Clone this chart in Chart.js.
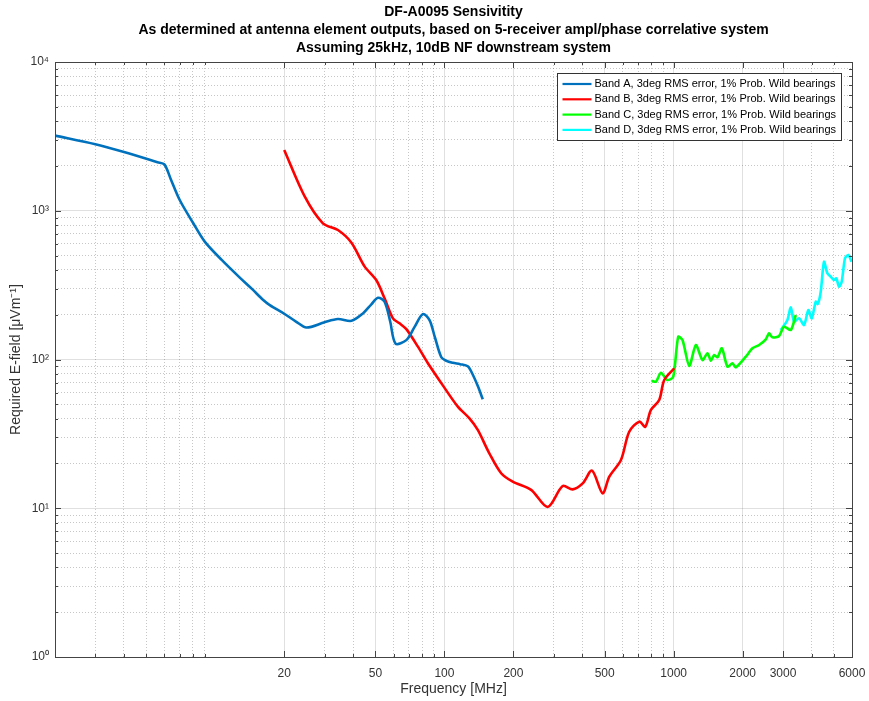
<!DOCTYPE html>
<html>
<head>
<meta charset="utf-8">
<script src="https://cdn.jsdelivr.net/npm/chart.js@4.4.1/dist/chart.umd.min.js"></script>
<style>
  body { margin: 0; background: #fff; }
</style>
</head>
<body>
<canvas id="sensChart" width="869" height="701"></canvas>
<script>
// values (MHz / uV per m)
const bandAFreq = [2, 3, 4, 5.6, 6, 6.4, 7, 8, 9, 10.7, 12.8, 14.5, 16.2, 17.3, 20, 22.5, 25, 30, 34.3, 39.3, 44.1, 48, 51.3, 54.8, 58, 61.2, 68.2, 74, 80.5, 86.1, 91, 96.8, 102, 108.8, 117, 126.4, 133, 140, 147];
const bandAVal = [3200, 2800, 2480, 2120, 2050, 1630, 1181, 830, 620, 465, 355, 297, 251, 232, 203, 180, 164, 178, 187, 182, 204, 235, 260, 245, 180, 128, 135, 165, 202, 184, 140, 104, 98, 95, 93, 90, 79, 66, 54];

const bandBFreq = [20, 24.6, 29.5, 34.3, 39.3, 44.9, 50.4, 54.8, 59.6, 63.7, 68.2, 76.6, 84.7, 98.4, 114.4, 128.6, 139.8, 157, 176.8, 198.6, 238.9, 282.2, 328, 362.6, 400.9, 440.5, 490, 524, 589, 640, 708, 752, 796, 865, 910, 1006];
const bandBVal = [2560, 1243, 823, 742, 610, 421, 342, 258, 189, 175, 160, 122, 94.3, 67, 48.2, 40.2, 33.6, 23.4, 17.2, 15.1, 13.3, 10.2, 14.1, 13.4, 14.7, 17.9, 12.6, 16.3, 21.1, 32.7, 38.2, 35.3, 45.8, 53.4, 72.8, 87.3];

const bandCFreq = [801, 837, 880, 940, 996, 1047, 1093, 1170, 1250, 1336, 1405, 1454, 1503, 1553, 1623, 1717, 1806, 1868, 2065, 2206, 2360, 2524, 2609, 2697, 2884, 3032, 3244, 3411];
const bandCVal = [72.0, 70.9, 81.5, 72.8, 76.6, 142.3, 135.2, 90.4, 125.2, 99.2, 110.1, 98.2, 107.2, 103.5, 118.9, 89.5, 94.3, 88.6, 104.4, 118.9, 125.2, 136.7, 150, 141, 143.9, 166.2, 157.8, 199.1];

const bandDFreq = [2934, 3136, 3244, 3353, 3526, 3707, 3871, 4004, 4169, 4255, 4382, 4530, 4684, 4846, 5008, 5126, 5266, 5410, 5592, 5781, 5980];
const bandDVal = [157.8, 184.3, 224.4, 179.6, 189.2, 170.6, 215.2, 189.2, 244.7, 236, 285.6, 454, 379.8, 360, 342, 351.6, 308.9, 333.4, 479, 504, 454];

const legendLabels = [
  'Band A, 3deg RMS error, 1% Prob. Wild bearings',
  'Band B, 3deg RMS error, 1% Prob. Wild bearings',
  'Band C, 3deg RMS error, 1% Prob. Wild bearings',
  'Band D, 3deg RMS error, 1% Prob. Wild bearings'
];
const bandColors = ['#0072BD', '#FF0000', '#00FF00', '#00FFFF'];

const titleLines = [
  'DF-A0095 Sensivitity',
  'As determined at antenna element outputs, based on 5-receiver ampl/phase correlative system',
  'Assuming 25kHz, 10dB NF downstream system'
];

const xMajorTicks = [20, 50, 100, 200, 500, 1000, 2000, 3000, 6000];
const xMinorTicks = [3, 4, 5, 6, 7, 8, 9, 30, 40, 60, 70, 80, 90, 300, 400, 600, 700, 800, 900, 4000, 5000];
const yMajorTicks = [1, 10, 100, 1000, 10000];
const yTickLabels = ['10\u2070', '10\u00b9', '10\u00b2', '10\u00b3', '10\u2074'];
const yMinorTicks = [2, 3, 4, 5, 6, 7, 8, 9, 20, 30, 40, 50, 60, 70, 80, 90, 200, 300, 400, 500, 600, 700, 800, 900, 2000, 3000, 4000, 5000, 6000, 7000, 8000, 9000];

const FONT = '"Liberation Sans", Arial, Helvetica, sans-serif';

function toPoints(fs, vs) {
  return fs.map((f, i) => ({ x: f, y: vs[i] }));
}

const bandFreqs = [bandAFreq, bandBFreq, bandCFreq, bandDFreq];
const bandVals = [bandAVal, bandBVal, bandCVal, bandDVal];

const datasets = legendLabels.map((lbl, i) => ({
  label: lbl,
  data: toPoints(bandFreqs[i], bandVals[i]),
  borderColor: bandColors[i],
  borderWidth: 2.6,
  pointRadius: 0,
  tension: i < 2 ? 0.3 : 0.25,
  fill: false
}));

function gridColor(majors) {
  return ctx => (ctx.tick && majors.includes(ctx.tick.value)) ? 'rgba(38,38,38,0.14)' : 'rgba(38,38,38,0.26)';
}
function gridDash(majors) {
  return ctx => (ctx.tick && !majors.includes(ctx.tick.value)) ? [1, 2] : [];
}

// MATLAB-style box with inward tick marks on all four sides
const boxPlugin = {
  id: 'box',
  afterDatasetsDraw(chart) {
    const { ctx, chartArea: a, scales } = chart;
    ctx.save();
    ctx.strokeStyle = '#444';
    ctx.lineWidth = 1;
    const xs = scales.x, ys = scales.y;
    ctx.beginPath();
    xMajorTicks.concat(xMinorTicks).forEach(v => {
      const len = xMajorTicks.includes(v) ? 6 : 3;
      const p = Math.round(xs.getPixelForValue(v)) + 0.5;
      ctx.moveTo(p, a.bottom); ctx.lineTo(p, a.bottom - len);
      ctx.moveTo(p, a.top); ctx.lineTo(p, a.top + len);
    });
    yMajorTicks.concat(yMinorTicks).forEach(v => {
      const len = yMajorTicks.includes(v) ? 6 : 3;
      const p = Math.round(ys.getPixelForValue(v)) + 0.5;
      ctx.moveTo(a.left, p); ctx.lineTo(a.left + len, p);
      ctx.moveTo(a.right, p); ctx.lineTo(a.right - len, p);
    });
    ctx.stroke();
    ctx.strokeRect(Math.round(a.left) + 0.5, Math.round(a.top) + 0.5,
      Math.round(a.right - a.left), Math.round(a.bottom - a.top));
    ctx.restore();
  }
};

const titlePlugin = {
  id: 'topTitle',
  afterDraw(chart) {
    const { ctx, chartArea: a } = chart;
    ctx.save();
    ctx.font = 'bold 14px ' + FONT;
    ctx.fillStyle = '#000';
    ctx.textAlign = 'center';
    ctx.textBaseline = 'middle';
    const cx = (a.left + a.right) / 2;
    titleLines.forEach((t, i) => ctx.fillText(t, cx, 12 + i * 18));
    ctx.restore();
  }
};

const legendPlugin = {
  id: 'bandLegend',
  afterDraw(chart) {
    const { ctx, chartArea: a } = chart;
    ctx.save();
    ctx.font = '11px ' + FONT;
    const w = Math.max(...legendLabels.map(t => ctx.measureText(t).width));
    const right = a.right - 11;
    const left = right - (w + 42);
    const top = a.top + 11;
    const h = 67;
    ctx.fillStyle = '#fff';
    ctx.fillRect(left, top, right - left, h);
    ctx.strokeStyle = '#333';
    ctx.lineWidth = 1;
    ctx.strokeRect(Math.round(left) + 0.5, top + 0.5, Math.round(right - left), h);
    ctx.textBaseline = 'middle';
    legendLabels.forEach((t, i) => {
      const y = top + 11 + i * 15.3;
      ctx.strokeStyle = bandColors[i];
      ctx.lineWidth = 2.2;
      ctx.beginPath();
      ctx.moveTo(left + 5, y);
      ctx.lineTo(left + 34, y);
      ctx.stroke();
      ctx.fillStyle = '#000';
      ctx.fillText(t, left + 37, y);
    });
    ctx.restore();
  }
};

new Chart(document.getElementById('sensChart').getContext('2d'), {
  type: 'line',
  data: { datasets: datasets },
  options: {
    responsive: false,
    animation: false,
    layout: { padding: { top: 62, right: 17, left: 0, bottom: 0 } },
    plugins: {
      legend: { display: false },
      title: { display: false },
      tooltip: { enabled: false }
    },
    scales: {
      x: {
        type: 'logarithmic',
        min: 2,
        max: 6000,
        afterBuildTicks: s => { s.ticks = xMinorTicks.concat(xMajorTicks).sort((p, q) => p - q).map(v => ({ value: v })); },
        afterFit: s => { s.height = 44; s.paddingLeft = 0; s.paddingRight = 0; },
        ticks: {
          autoSkip: false,
          maxRotation: 0,
          minRotation: 0,
          padding: 9,
          color: '#333',
          font: { family: FONT, size: 12 },
          callback: v => xMajorTicks.includes(v) ? String(v) : ''
        },
        grid: { drawTicks: false, color: gridColor(xMajorTicks), lineWidth: 1 },
        border: { display: false, dash: gridDash(xMajorTicks) },
        title: {
          display: true,
          text: 'Frequency [MHz]',
          color: '#333',
          font: { family: FONT, size: 14 },
          padding: { top: 0, bottom: 3 }
        }
      },
      y: {
        type: 'logarithmic',
        min: 1,
        max: 10000,
        afterBuildTicks: s => { s.ticks = yMinorTicks.concat(yMajorTicks).sort((p, q) => p - q).map(v => ({ value: v })); },
        afterFit: s => { s.width = 55; s.paddingTop = 0; s.paddingBottom = 0; },
        ticks: {
          autoSkip: false,
          padding: 6,
          color: '#333',
          font: { family: FONT, size: 12 },
          callback: v => {
            const k = yMajorTicks.indexOf(v);
            return k >= 0 ? yTickLabels[k] : '';
          }
        },
        grid: { drawTicks: false, color: gridColor(yMajorTicks), lineWidth: 1 },
        border: { display: false, dash: gridDash(yMajorTicks) },
        title: {
          display: true,
          text: 'Required E-field [\u03bcVm\u207b\u00b9]',
          color: '#333',
          font: { family: FONT, size: 14 },
          padding: { top: 8, bottom: 0 }
        }
      }
    }
  },
  plugins: [boxPlugin, titlePlugin, legendPlugin]
});
</script>
</body>
</html>
